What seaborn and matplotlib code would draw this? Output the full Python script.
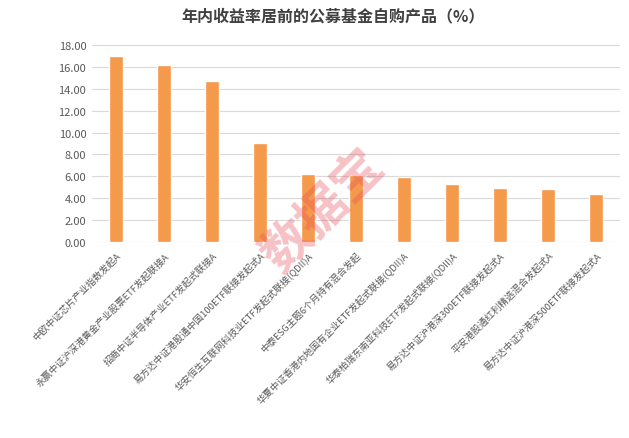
import matplotlib
matplotlib.use("Agg")
import matplotlib.pyplot as plt
import seaborn as sns
import pandas as pd

funds = [
    "中欧中证芯片产业指数发起A",
    "永赢中证沪深港黄金产业股票ETF发起联接A",
    "招商中证半导体产业ETF发起式联接A",
    "易方达中证港股通中国100ETF联接发起式A",
    "华安恒生互联网科技业ETF发起式联接(QDII)A",
    "中泰ESG主题6个月持有混合发起",
    "华夏中证香港内地国有企业ETF发起式联接(QDII)A",
    "华泰柏瑞东南亚科技ETF发起式联接(QDII)A",
    "易方达中证沪港深300ETF联接发起式A",
    "平安港股通红利精选混合发起式A",
    "易方达中证沪港深500ETF联接发起式A",
]
returns = [17.02, 16.17, 14.67, 9.03, 6.17, 6.10, 5.95, 5.31, 4.94, 4.85, 4.36]
yticks = [0, 2, 4, 6, 8, 10, 12, 14, 16, 18]

sns.set_theme(style="white")
plt.rcParams["font.family"] = ["Noto Sans CJK SC", "DejaVu Sans"]

df = pd.DataFrame({"fund": funds, "ret": returns})

fig = plt.figure(figsize=(6.29, 4.39), dpi=100)
ax = fig.add_axes([0.146, 0.447, 0.84, 0.448])
sns.barplot(data=df, x="fund", y="ret", color="#F5994B", width=0.28,
            saturation=1, ax=ax, zorder=3)

ax.set_ylim(0, 18)
ax.set_yticks(yticks)
ax.set_yticklabels([f"{v:.2f}" for v in yticks], fontsize=8, color="#595959")
ax.grid(axis="y", color="#D9D9D9", linewidth=0.8, zorder=0)
ax.set_axisbelow(True)
for s in ax.spines.values():
    s.set_visible(False)
ax.tick_params(axis="both", length=0, pad=4)
ax.set_xlabel("")
ax.set_ylabel("")
ax.set_xticks(range(len(funds)))
ax.set_xticklabels(funds, rotation=45, ha="right", rotation_mode="anchor",
                   fontsize=6.8, color="#595959")
ax.tick_params(axis="x", pad=6)

fig.text(0.53, 0.962, "年内收益率居前的公募基金自购产品（%）", ha="center", va="center",
         fontsize=11.5, fontweight="bold", color="#404040")

# watermark
fig.text(0.515, 0.52, "数据宝", ha="center", va="center", fontsize=36, rotation=45,
         color="#E8505B", alpha=0.35, fontweight="bold")

fig.savefig("out.png", dpi=100)
